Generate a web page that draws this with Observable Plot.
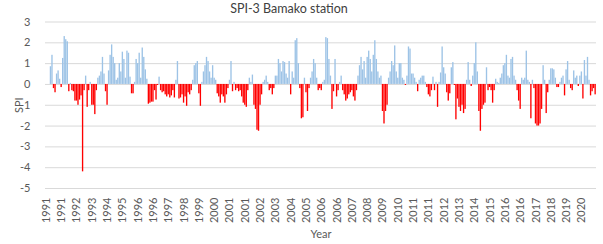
<!DOCTYPE html>
<html><head><meta charset="utf-8">
<script src="https://cdn.jsdelivr.net/npm/d3@7"></script>
<script src="https://cdn.jsdelivr.net/npm/@observablehq/plot@0.6"></script>
<style>
body{margin:0;background:#fff;}
#wrap{position:relative;width:603px;height:244px;font-family:Lato,"Open Sans",sans-serif;}
#title{position:absolute;top:1px;left:189px;width:200px;text-align:center;font-size:12.5px;color:#404040;line-height:16px;}
#chart{position:absolute;top:0;left:0;}
</style></head><body>
<div id="wrap"><div id="chart"></div><div id="title">SPI-3 Bamako station</div></div>
<script>
const chartTitle = "SPI-3 Bamako station";
const yLabel = "SPI";
const xLabel = "Year";
// Monthly SPI-3 values, one line per year (Jan..Dec)
const spi1991to2000 = [
  null, null, null, 0.85, 1.4, -0.2, -0.4, 0.5, 0.65, 0.25, -0.15, 1.25,
  2.3, 2.15, 2.05, -0.35, 0.05, -0.3, -0.35, -0.8, -0.8, -1.0, -0.75, -0.55,
  -4.2, -0.3, 0.4, -1.1, -0.3, 0.1, -1.0, -1.0, -1.45, -0.3, 0.3, 0.4,
  0.6, 1.3, 0.5, -0.35, -1.0, 0.65, 1.4, 1.9, 1.3, 1.0, 0.2, 0.3,
  1.0, 0.6, 1.55, 1.2, 0.3, 1.6, 1.5, 0.35, -0.45, -0.45, 0.1, 1.2,
  1.0, 1.5, 0.3, 1.75, 1.3, 0.7, 0.25, -0.95, -0.9, -0.85, -0.85, -0.3,
  -0.75, -0.05, 0.35, -0.3, -0.4, -0.35, -0.5, -0.6, -0.5, -0.65, -0.55, -0.3,
  -0.65, 0.2, 1.1, -0.7, -0.65, -0.5, -0.9, -0.6, -1.05, -0.4, -0.5, -0.3,
  0.2, 0.9, 1.0, 1.1, -0.45, -1.05, 0.1, 0.6, 0.9, 1.3, 1.1, 0.6,
  0.3, 0.9, 0.3, 0.2, -0.45, -0.6, -0.9, -0.5, -0.6, -0.9, -0.5, -0.2
];
const spi2001to2010 = [
  0.2, 1.1, -0.35, 0.1, -0.3, -0.2, -0.35, -0.3, -0.6, -0.9, -1.0, -1.1,
  -0.3, 0.3, 0.1, 0.45, -1.0, -1.2, -2.2, -2.25, -1.0, -0.5, 0.1, 0.2,
  0.4, 0.1, -0.3, -0.2, -0.5, -0.2, 0.4, 0.4, 1.2, 1.0, 0.6, 1.1,
  1.05, 0.5, 0.3, 1.1, -0.5, 0.6, 0.3, 2.1, 2.2, 1.0, -0.2, -1.65,
  -1.6, 0.3, -0.4, -1.3, -0.2, 0.3, 0.6, 1.2, 1.0, 0.3, -0.3, -0.2,
  -0.3, 0.1, 0.2, 2.25, 2.2, 1.2, 0.4, -1.2, -0.35, 1.2, -0.6, -0.3,
  0.1, 0.4, -0.3, -0.5, -0.8, -0.7, -0.5, -0.4, -0.3, -0.6, -0.8, -0.3,
  0.4, 0.9, 1.3, 0.7, 1.1, 0.3, 1.3, 1.6, 1.2, 0.6, 1.4, 2.1,
  1.2, 0.6, 0.3, 0.4, -1.3, -1.9, -1.3, -1.0, 0.3, 0.6, 1.1, 0.9,
  1.85, 0.6, 0.3, 1.0, 1.0, 0.3, 0.2, -0.05, 0.4, 1.8, 1.7, 0.5
];
const spi2011to2020 = [
  0.5, 0.3, 0.1, -0.35, 0.2, 0.3, 0.4, 0.4, 0.1, -0.15, -0.5, -0.6,
  -0.3, 0.35, -0.3, 0.1, -1.1, 0.1, 0.55, 1.8, 0.8, 0.5, -0.4, -0.8,
  -0.45, 0.8, 1.05, -0.05, -1.7, -0.7, -1.1, -1.3, -1.0, -1.4, -1.2, 0.2,
  1.05, 0.2, -0.1, 0.4, 1.0, 2.0, 0.6, -1.3, -2.25, -1.2, -1.0, -0.9,
  0.8, -0.3, -0.15, -0.3, -0.9, -0.3, 0.25, 0.1, 0.05, 0.3, 0.5, 0.9,
  1.0, 1.4, 0.4, 0.3, 1.2, 1.3, 0.4, 0.2, -0.3, -0.8, -1.2, 0.3,
  0.2, 0.3, 1.6, 0.2, 0.1, -1.65, 0.2, -0.2, -1.9, -2.0, -2.0, -1.9,
  -1.2, 0.9, 0.2, -1.4, -0.4, 0.2, 0.75, 0.75, 0.7, 0.3, -0.15, -0.15,
  0.1, 0.3, 0.4, -0.55, 0.7, 1.1, 0.2, -0.2, -0.3, 0.65, 0.3, 0.4,
  -0.1, 0.4, 0.6, -0.7, 1.15, 0.4, 1.3, 0.2, -0.55, -0.35, -0.2, -0.5
];
// Category-axis labels, one every 10 months
const tickLabels = ["1991","1991","1992","1993","1994","1995","1996","1996","1997",
  "1998","1999","2000","2001","2001","2002","2003","2004","2005",
  "2006","2006","2007","2008","2009","2010","2011","2011","2012",
  "2013","2014","2015","2016","2016","2017","2018","2019","2020"];
const yTicks = [-5, -4, -3, -2, -1, 0, 1, 2, 3];

const allValues = [...spi1991to2000, ...spi2001to2010, ...spi2011to2020];
const data = allValues.map((v, i) => ({i, v})).filter(d => d.v != null);
const labelStep = 10;
const tickIdx = tickLabels.map((_, k) => k * labelStep);

const chart = Plot.plot({
  width: 603, height: 244,
  marginLeft: 45, marginRight: 7, marginTop: 21.5, marginBottom: 56,
  style: {fontFamily: "Lato, 'Open Sans', sans-serif", fontSize: "11px", color: "#595959", background: "#fff"},
  x: {type: "band", domain: d3.range(allValues.length), padding: 0.12},
  y: {domain: [-5, 3]},
  color: {type: "identity"},
  marks: [
    Plot.gridY(yTicks, {stroke: "#d9d9d9", strokeOpacity: 1}),
    Plot.barY(data, {x: "i", y: "v", fill: d => d.v >= 0 ? "#9dc3e6" : "#ff0000"}),
    Plot.axisY(yTicks, {tickSize: 0, tickPadding: 15, tickFormat: d => String(d),
      label: yLabel, labelAnchor: "center", labelArrow: "none", labelOffset: 30}),
    Plot.axisX(tickIdx, {tickSize: 0, tickPadding: 9, tickRotate: -90,
      tickFormat: d => tickLabels[d / labelStep],
      label: xLabel, labelAnchor: "center", labelArrow: "none", labelOffset: 49})
  ]
});
document.getElementById("chart").appendChild(chart);
document.getElementById("title").textContent = chartTitle;
</script>
</body></html>
